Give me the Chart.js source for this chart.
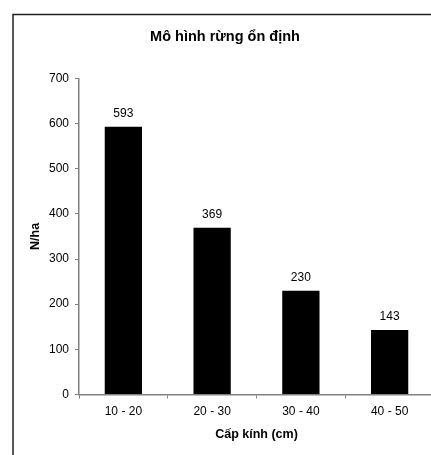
<!DOCTYPE html>
<html>
<head>
<meta charset="utf-8">
<script src="https://cdn.jsdelivr.net/npm/chart.js@4.4.1/dist/chart.umd.min.js"></script>
<style>
    html, body { margin: 0; padding: 0; background: #fff; overflow: hidden; }
    #chartBox { width: 440px; height: 455px; }
</style>
</head>
<body>
<div id="chartBox"><canvas id="standChart" width="440" height="455"></canvas></div>
<script>
const chartTitle = 'Mô hình rừng ổn định';
const diameterClasses = ['10 - 20', '20 - 30', '30 - 40', '40 - 50'];
const treesPerHa = [593, 369, 230, 143];
const yTitle = 'N/ha';
const xTitle = 'Cấp kính (cm)';

const fontName = "'Liberation Sans', Arial, sans-serif";
const axisGrey = '#808080';

// outer frame like the original sheet border
const framePlugin = {
    id: 'frame',
    beforeDraw(chart) {
        const ctx = chart.ctx;
        ctx.save();
        ctx.strokeStyle = '#222';
        ctx.lineWidth = 1.5;
        ctx.beginPath();
        ctx.moveTo(13, 456);
        ctx.lineTo(13, 14.5);
        ctx.lineTo(441, 14.5);
        ctx.stroke();
        ctx.restore();
    }
};

// value labels above each bar
const valueLabels = {
    id: 'valueLabels',
    afterDatasetsDraw(chart) {
        const ctx = chart.ctx;
        const meta = chart.getDatasetMeta(0);
        ctx.save();
        ctx.font = '12px ' + fontName;
        ctx.fillStyle = '#000';
        ctx.textAlign = 'center';
        ctx.textBaseline = 'alphabetic';
        meta.data.forEach((bar, i) => {
            ctx.fillText(String(treesPerHa[i]), bar.x, bar.y - 10);
        });
        ctx.restore();
    }
};

const ctx = document.getElementById('standChart').getContext('2d');
new Chart(ctx, {
    type: 'bar',
    data: {
        labels: diameterClasses,
        datasets: [{
            label: 'N/ha',
            data: treesPerHa,
            backgroundColor: '#000',
            borderWidth: 0,
            categoryPercentage: 1,
            barPercentage: 0.42
        }]
    },
    options: {
        responsive: false,
        animation: false,
        layout: { padding: { left: 16, right: 6, top: 0, bottom: 0 } },
        plugins: {
            legend: { display: false },
            tooltip: { enabled: false },
            title: {
                display: true,
                text: chartTitle,
                color: '#000',
                font: { family: fontName, size: 14.5, weight: 'bold' },
                padding: { top: 28, bottom: 33 }
            }
        },
        scales: {
            x: {
                grid: { display: true, drawOnChartArea: false, drawTicks: true, tickLength: 4, color: axisGrey, offset: true },
                border: { display: true, color: axisGrey, width: 1.5 },
                ticks: { color: '#000', font: { family: fontName, size: 12 }, padding: 6, maxRotation: 0 },
                title: {
                    display: true,
                    text: xTitle,
                    color: '#000',
                    font: { family: fontName, size: 12.5, weight: 'bold' },
                    padding: { top: 4, bottom: 12.5 }
                },
                afterFit(scale) { scale.height = 60.5; }
            },
            y: {
                min: 0,
                max: 700,
                grid: { display: true, drawOnChartArea: false, drawTicks: true, tickLength: 4, color: axisGrey },
                border: { display: true, color: axisGrey, width: 1.5 },
                ticks: { stepSize: 100, color: '#000', font: { family: fontName, size: 12 }, padding: 6 },
                title: {
                    display: true,
                    text: yTitle,
                    color: '#000',
                    font: { family: fontName, size: 12.5, weight: 'bold' },
                    padding: { top: 12.5, bottom: 4 }
                },
                afterFit(scale) { scale.width = 63; }
            }
        }
    },
    plugins: [framePlugin, valueLabels]
});
</script>
</body>
</html>
